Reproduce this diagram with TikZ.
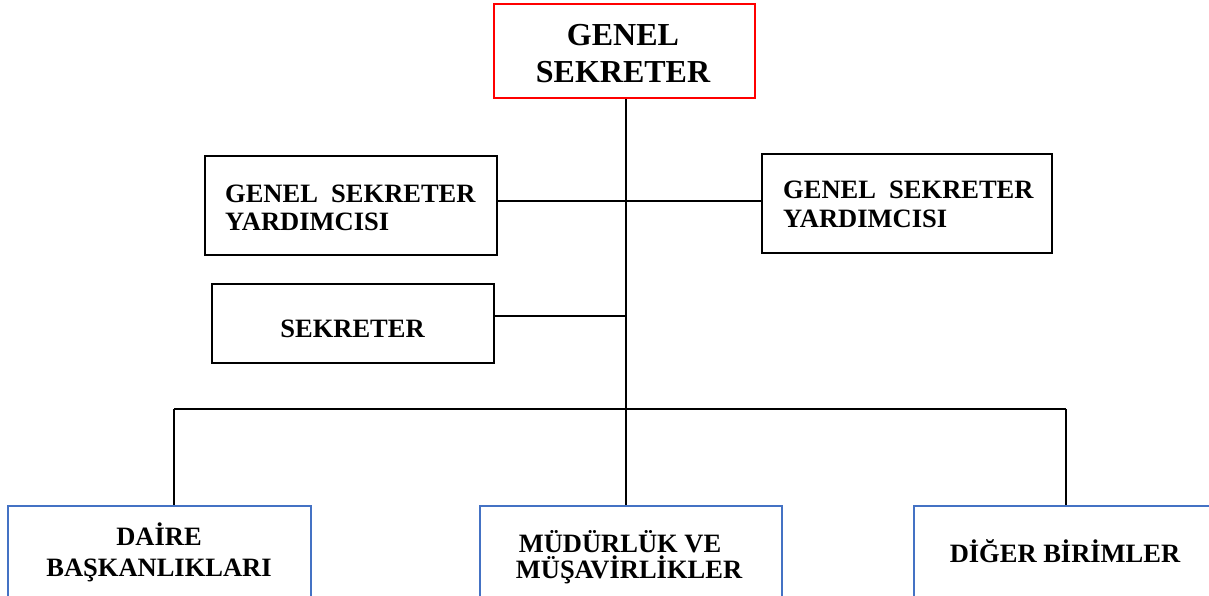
\documentclass[tikz,border=0pt]{standalone}
\usepackage{fontspec}
\setmainfont{Liberation Serif}
\definecolor{boxred}{HTML}{FF0000}
\definecolor{boxblue}{HTML}{4472C4}
\begin{document}
\begin{tikzpicture}[x=1pt,y=-1pt,
  box/.style={draw, line width=2.4pt, inner sep=0pt, rectangle},
  redbox/.style={box, draw=boxred, line width=2.8pt},
  bluebox/.style={box, draw=boxblue, line width=2.8pt},
  big/.style={font=\fontsize{32}{37}\selectfont\bfseries, inner sep=0pt},
  mid/.style={font=\fontsize{26.5}{28}\selectfont\bfseries, inner sep=0pt},
  conn/.style={draw=black, line width=1.5pt}]
\clip (0,0) rectangle (1209,595);
\fill[white] (0,0) rectangle (1209,595);
% boxes
\node[redbox, minimum width=261pt, minimum height=94pt] (gs) at (624.5,51) {};
\node[box, minimum width=292pt, minimum height=99pt] (gsy1) at (351,205.5) {};
\node[box, minimum width=290pt, minimum height=99pt] (gsy2) at (907,203.5) {};
\node[box, minimum width=282pt, minimum height=79pt] (sek) at (353,323.5) {};
\node[bluebox, minimum width=303pt, minimum height=140pt] (db) at (159.5,576) {};
\node[bluebox, minimum width=302pt, minimum height=140pt] (mm) at (631,576) {};
\node[bluebox, minimum width=302pt, minimum height=140pt] (dg) at (1065,576) {};
% texts
\node[big, anchor=base] (gst1) at (623,45) {GENEL};
\node[big, anchor=base] (gst2) at (623,82) {SEKRETER};
\node[mid, anchor=base west] (g1a) at (225,202) {GENEL~~SEKRETER};
\node[mid, anchor=base west] (g1b) at (225,230) {YARDIMCISI};
\node[mid, anchor=base west] (g2a) at (783,198) {GENEL~~SEKRETER};
\node[mid, anchor=base west] (g2b) at (783,227) {YARDIMCISI};
\node[mid, anchor=base] (sekt) at (352.5,337) {SEKRETER};
\node[mid, anchor=base] (dba) at (159,545) {DAİRE};
\node[mid, anchor=base] (dbb) at (159,576) {BAŞKANLIKLARI};
\node[mid, anchor=base] (mma) at (620,552) {MÜDÜRLÜK VE};
\node[mid, anchor=base] (mmb) at (629,578) {MÜŞAVİRLİKLER};
\node[mid, anchor=base] (dgt) at (1065,562) {DİĞER BİRİMLER};
% connector coordinates
\coordinate (j1) at (626,201);
\coordinate (j2) at (626,316);
\coordinate (bus) at (626,409);
\coordinate (busL) at (174,409);
\coordinate (busR) at (1066,409);
% connectors
\draw[conn] (bus |- gs.south) -- (bus);
\draw[conn] (gsy1.east |- j1) -- (gsy2.west |- j1);
\draw[conn] (sek.east |- j2) -- (j2);
\draw[conn] (busL) -- (busR);
\draw[conn] (busL) -- (busL |- db.north);
\draw[conn] (bus) -- (bus |- mm.north);
\draw[conn] (busR) -- (busR |- dg.north);
\end{tikzpicture}
\end{document}
